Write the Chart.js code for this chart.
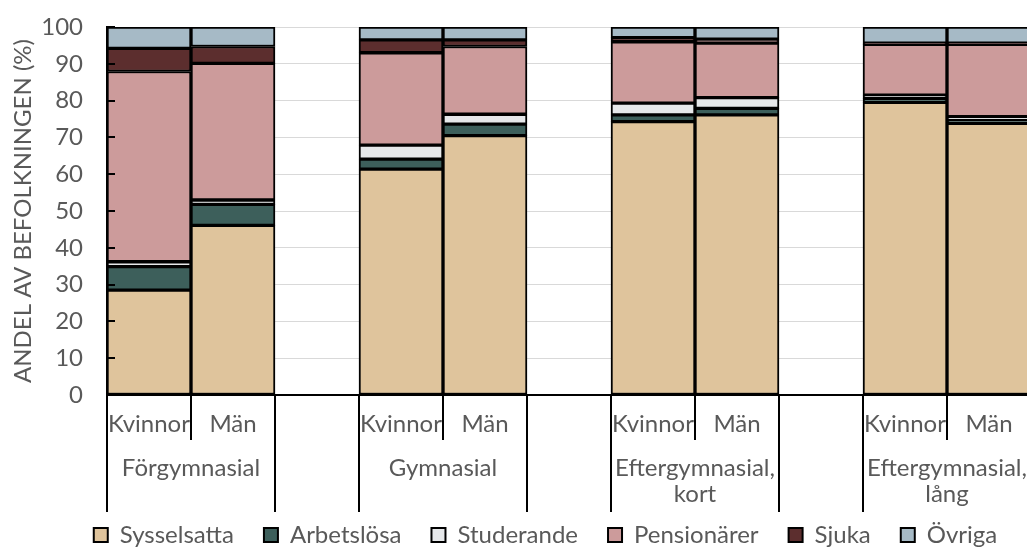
<!DOCTYPE html>
<html>
<head>
<meta charset="utf-8">
<script src="https://cdn.jsdelivr.net/npm/chart.js@4/dist/chart.umd.min.js"></script>
<style>
  html, body { margin: 0; padding: 0; overflow: hidden; background: #fff; }
  #wrap { width: 1115px; height: 557px; position: relative; }
</style>
</head>
<body>
<div id="wrap"><canvas id="chart"></canvas></div>
<script>
// categories: education groups, each with Kvinnor / Män and an empty spacer slot
const groups = ['Förgymnasial', 'Gymnasial', ['Eftergymnasial,', 'kort'], ['Eftergymnasial,', 'lång']];
const sexes = ['Kvinnor', 'Män'];
const categories = ['Kvinnor', 'Män', '', 'Kvinnor', 'Män', '', 'Kvinnor', 'Män', '', 'Kvinnor', 'Män', ''];

// series values (%), null in the spacer slots
const sysselsatta = [28.5, 46.1, null, 61.4, 70.5, null, 74.3, 76.1, null, 79.5, 73.8, null];
const arbetslosa  = [6.4, 5.7, null, 2.7, 3.1, null, 1.8, 1.8, null, 1.1, 0.9, null];
const studerande  = [1.3, 1.2, null, 3.8, 2.7, null, 3.2, 2.9, null, 0.9, 0.9, null];
const pensionarer = [51.7, 37.1, null, 25.1, 18.4, null, 16.7, 14.8, null, 13.8, 19.7, null];
const sjuka       = [6.3, 4.6, null, 3.5, 1.8, null, 1.1, 1.1, null, 0.3, 0.3, null];
const ovriga      = [5.8, 5.3, null, 3.5, 3.5, null, 2.9, 3.3, null, 4.4, 4.4, null];

const yTicks = [0, 10, 20, 30, 40, 50, 60, 70, 80, 90, 100];

const FONT = 'Lato';
const GREY = '#595959';

function series(label, data, color) {
  return {
    label: label,
    data: data,
    backgroundColor: color,
    borderColor: '#000',
    borderWidth: 2,
    borderSkipped: false,
    categoryPercentage: 1,
    barPercentage: 1
  };
}

// draws the two-level category axis and the inward y ticks
const axisLabels = {
  id: 'axisLabels',
  afterLayout(chart) {
    // canvas is wider than the window; nudge legend to the visible centre
    chart.legend.left -= 12;
    chart.legend.right -= 12;
  },
  afterDraw(chart) {
    const { ctx, chartArea, scales: { x, y } } = chart;
    const bottom = chartArea.bottom;
    const half = (x.getPixelForValue(1) - x.getPixelForValue(0)) / 2;
    ctx.save();
    ctx.strokeStyle = '#000';
    ctx.lineWidth = 2;

    // inward tick marks on the y axis
    yTicks.forEach(v => {
      const py = Math.round(y.getPixelForValue(v));
      ctx.beginPath();
      ctx.moveTo(chartArea.left, py);
      ctx.lineTo(chartArea.left + 8, py);
      ctx.stroke();
    });

    ctx.fillStyle = GREY;
    ctx.font = '24px ' + FONT;
    ctx.textAlign = 'center';
    ctx.textBaseline = 'middle';

    groups.forEach((g, gi) => {
      const i0 = gi * 3;
      const left = x.getPixelForValue(i0) - half;
      const mid = x.getPixelForValue(i0) + half;
      const right = x.getPixelForValue(i0 + 1) + half;
      [left, right].forEach(px => {
        ctx.beginPath();
        ctx.moveTo(px, bottom);
        ctx.lineTo(px, bottom + 117);
        ctx.stroke();
      });
      ctx.beginPath();
      ctx.moveTo(mid, bottom);
      ctx.lineTo(mid, bottom + 45);
      ctx.stroke();

      sexes.forEach((s, si) => {
        ctx.fillText(s, x.getPixelForValue(i0 + si), bottom + 29);
      });
      const lines = Array.isArray(g) ? g : [g];
      lines.forEach((t, li) => ctx.fillText(t, mid, bottom + 73 + li * 26));
    });
    ctx.restore();
  }
};

new Chart(document.getElementById('chart'), {
  type: 'bar',
  data: {
    labels: categories,
    datasets: [
      series('Sysselsatta', sysselsatta, '#dfc49c'),
      series('Arbetslösa', arbetslosa, '#3d5f5b'),
      series('Studerande', studerande, '#e6e8ea'),
      series('Pensionärer', pensionarer, '#cc9b9b'),
      series('Sjuka', sjuka, '#5c2e2e'),
      series('Övriga', ovriga, '#a6bac6')
    ]
  },
  options: {
    responsive: true,
    maintainAspectRatio: false,
    animation: false,
    layout: { padding: { top: 27, left: 0, right: 0, bottom: 0 } },
    plugins: {
      tooltip: { enabled: false },
      legend: {
        position: 'bottom',
        labels: {
          boxWidth: 14,
          boxHeight: 14,
          padding: 30,
          color: GREY,
          font: { family: FONT, size: 24 }
        }
      }
    },
    scales: {
      x: {
        stacked: true,
        grid: { display: false },
        border: { display: true, color: '#000', width: 2 },
        ticks: { display: false },
        afterFit(scale) { scale.height = 98; }
      },
      y: {
        stacked: true,
        min: 0,
        max: 100,
        afterBuildTicks(scale) { scale.ticks = yTicks.map(v => ({ value: v })); },
        grid: { color: '#d9d9d9', lineWidth: 1, drawTicks: false },
        border: { display: true, color: '#000', width: 2 },
        ticks: { color: GREY, padding: 24, font: { family: FONT, size: 24 } },
        title: {
          display: true,
          text: 'ANDEL AV BEFOLKNINGEN (%)',
          color: GREY,
          font: { family: FONT, size: 24 },
          padding: { top: 9, bottom: 0 }
        },
        afterFit(scale) {
          scale.width = 107;
          scale.paddingTop = 0;
          scale.paddingBottom = 0;
        }
      }
    }
  },
  plugins: [axisLabels]
});
</script>
</body>
</html>
